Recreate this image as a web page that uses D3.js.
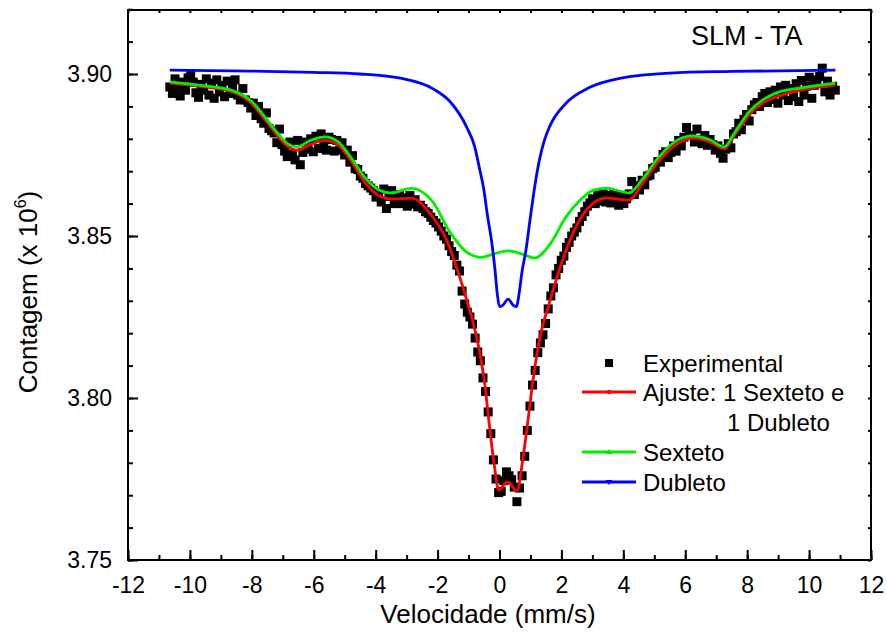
<!DOCTYPE html>
<html>
<head>
<meta charset="utf-8">
<script src="https://cdn.jsdelivr.net/npm/d3@7"></script>
<style>
  body { margin: 0; background: #fff; }
  svg { font-family: "Liberation Sans", Arial, sans-serif; }
</style>
</head>
<body>
<svg width="887" height="635"></svg>
<script>
// experimental spectrum: 256 equally spaced channels
var velStart = -10.65, velStep = 0.0843;
var expCounts = [
  3.8960, 3.8940, 3.8985, 3.8955, 3.8932, 3.8975, 3.8950, 3.8988,
  3.8995, 3.8975, 3.8942, 3.8928, 3.8968, 3.8950, 3.8985, 3.8935,
  3.8972, 3.8925, 3.8982, 3.8945, 3.8965, 3.8930, 3.8978, 3.8940,
  3.8962, 3.8982, 3.8935, 3.8920, 3.8955, 3.8920, 3.8912, 3.8895,
  3.8910, 3.8872, 3.8900, 3.8862, 3.8848, 3.8880, 3.8832, 3.8825,
  3.8818, 3.8788, 3.8830, 3.8782, 3.8762, 3.8745, 3.8790, 3.8752,
  3.8735, 3.8795, 3.8720, 3.8758, 3.8790, 3.8768, 3.8800, 3.8760,
  3.8808, 3.8770, 3.8815, 3.8788, 3.8765, 3.8805, 3.8798, 3.8762,
  3.8795, 3.8765, 3.8788, 3.8750, 3.8765, 3.8728, 3.8748, 3.8708,
  3.8705, 3.8685, 3.8678, 3.8662, 3.8655, 3.8648, 3.8640, 3.8620,
  3.8632, 3.8605, 3.8645, 3.8585, 3.8622, 3.8640, 3.8600, 3.8628,
  3.8628, 3.8600, 3.8618, 3.8592, 3.8625, 3.8598, 3.8612, 3.8590,
  3.8595, 3.8585, 3.8575, 3.8570, 3.8558, 3.8548, 3.8540, 3.8528,
  3.8515, 3.8500, 3.8490, 3.8470, 3.8452, 3.8440, 3.8410, 3.8392,
  3.8330, 3.8290, 3.8265, 3.8250, 3.8228, 3.8185, 3.8142, 3.8115,
  3.8062, 3.8020, 3.7957, 3.7890, 3.7809, 3.7750, 3.7708, 3.7712,
  3.7745, 3.7772, 3.7760, 3.7748, 3.7725, 3.7680, 3.7722, 3.7760,
  3.7820, 3.7900, 3.7975, 3.8040, 3.8085, 3.8140, 3.8170, 3.8195,
  3.8230, 3.8275, 3.8315, 3.8340, 3.8380, 3.8400, 3.8425, 3.8438,
  3.8465, 3.8480, 3.8500, 3.8512, 3.8525, 3.8545, 3.8560, 3.8575,
  3.8592, 3.8602, 3.8615, 3.8600, 3.8625, 3.8608, 3.8630, 3.8605,
  3.8625, 3.8602, 3.8630, 3.8612, 3.8595, 3.8622, 3.8600, 3.8615,
  3.8630, 3.8668, 3.8628, 3.8655, 3.8642, 3.8672, 3.8658, 3.8685,
  3.8688, 3.8708, 3.8712, 3.8730, 3.8728, 3.8752, 3.8760, 3.8742,
  3.8758, 3.8778, 3.8762, 3.8795, 3.8778, 3.8805, 3.8835, 3.8810,
  3.8810, 3.8790, 3.8830, 3.8798, 3.8785, 3.8810, 3.8780, 3.8798,
  3.8782, 3.8765, 3.8778, 3.8755, 3.8740, 3.8768, 3.8785, 3.8772,
  3.8815, 3.8822, 3.8848, 3.8828, 3.8860, 3.8875, 3.8855, 3.8890,
  3.8905, 3.8912, 3.8900, 3.8930, 3.8940, 3.8912, 3.8945, 3.8922,
  3.8950, 3.8910, 3.8960, 3.8935, 3.8965, 3.8918, 3.8955, 3.8930,
  3.8970, 3.8915, 3.8980, 3.8935, 3.8962, 3.8990, 3.8925, 3.8965,
  3.8982, 3.8992, 3.9018, 3.8945, 3.8978, 3.8935, 3.8962, 3.8950
];

// fitted curves [velocity, counts]
var fitTotal = [
  [-10.65, 3.8972], [-9.5, 3.8960], [-8.6, 3.8944], [-8.0, 3.8908], [-7.6, 3.8862],
  [-7.2, 3.8813], [-6.85, 3.8777], [-6.55, 3.8765], [-6.1, 3.8783], [-5.65, 3.8795],
  [-5.2, 3.8780], [-4.84, 3.8738], [-4.3, 3.8660], [-3.9, 3.8625], [-3.45, 3.8614],
  [-2.85, 3.8617], [-2.16, 3.8559], [-1.71, 3.8488], [-1.39, 3.8404], [-1.03, 3.8293],
  [-0.7, 3.8170], [-0.48, 3.8046], [-0.32, 3.7910], [-0.16, 3.7787], [-0.03, 3.7716],
  [0.27, 3.7741], [0.56, 3.7713], [0.75, 3.7809], [0.91, 3.7923], [1.07, 3.8046],
  [1.29, 3.8179], [1.61, 3.8293], [2.04, 3.8426], [2.47, 3.8528], [2.9, 3.8590],
  [3.44, 3.8617], [4.19, 3.8611], [4.6, 3.8660], [5.1, 3.8725], [5.65, 3.8778],
  [6.24, 3.8802], [6.8, 3.8790], [7.26, 3.8769], [7.6, 3.8812], [8.06, 3.8873],
  [8.5, 3.8910], [8.93, 3.8929], [9.8, 3.8952], [10.85, 3.8966]
];
var sextet = [
  [-10.65, 3.8976], [-9.5, 3.8963], [-8.6, 3.8948], [-8.0, 3.8915], [-7.6, 3.8870],
  [-7.2, 3.8821], [-6.85, 3.8785], [-6.55, 3.8775], [-6.1, 3.8795], [-5.65, 3.8806],
  [-5.2, 3.8790], [-4.84, 3.8748], [-4.3, 3.8675], [-3.9, 3.8642], [-3.5, 3.8633],
  [-2.85, 3.8647], [-2.16, 3.8606], [-1.6, 3.8512], [-1.07, 3.8451], [-0.59, 3.8434],
  [-0.2, 3.8444], [0.27, 3.8454], [0.74, 3.8444], [1.13, 3.8432], [1.6, 3.8470],
  [2.15, 3.8559], [2.6, 3.8610], [3.0, 3.8640], [3.44, 3.8648], [4.19, 3.8633],
  [4.6, 3.8673], [5.1, 3.8738], [5.65, 3.8790], [6.24, 3.8809], [6.8, 3.8797],
  [7.26, 3.8775], [7.6, 3.8820], [8.06, 3.8883], [8.5, 3.8920], [8.93, 3.8941],
  [9.8, 3.8958], [10.85, 3.8972]
];
var doublet = [
  [-10.65, 3.9012], [-8, 3.9009], [-6, 3.9005], [-4.5, 3.9000], [-3.2, 3.8987],
  [-2.16, 3.8955], [-1.6, 3.8915], [-1.06, 3.8836], [-0.8, 3.8775], [-0.65, 3.8710],
  [-0.5, 3.8640], [-0.4, 3.8570], [-0.25, 3.8480], [-0.15, 3.8400], [-0.07, 3.8320],
  [0.0, 3.8282], [0.1, 3.8286], [0.28, 3.8305], [0.45, 3.8286], [0.55, 3.8282],
  [0.63, 3.8320], [0.72, 3.8385], [0.86, 3.8460], [1.0, 3.8560], [1.15, 3.8660],
  [1.29, 3.8735], [1.45, 3.8795], [1.61, 3.8836], [2.15, 3.8910], [2.9, 3.8958],
  [3.97, 3.8988], [5.5, 3.9003], [7.5, 3.9008], [10.85, 3.9012]
];

var xTicks = [-12, -10, -8, -6, -4, -2, 0, 2, 4, 6, 8, 10, 12];
var yTicks = [3.75, 3.80, 3.85, 3.90];

var legendItems = [
  { label: "Ajuste: 1 Sexteto e", color: "#ff0000", marker: "circle" },
  { label: "Sexteto", color: "#00ee00", marker: "up" },
  { label: "Dubleto", color: "#0000ff", marker: "down" }
];

function draw() {
    var svg = d3.select("svg");
    var mLeft = 128, mRight = 871, mTop = 10, mBottom = 560;

    var x = d3.scaleLinear().domain([-12, 12]).range([mLeft, mRight]);
    var y = d3.scaleLinear().domain([3.75, 3.92]).range([mBottom, 9.2]);

    var xMinor = d3.range(-12, 12.5, 1);
    var yMinor = d3.range(3.75, 3.921, 0.01);

    // axes (ticks inside the frame)
    svg.append("g")
        .attr("transform", "translate(0," + mBottom + ")")
        .call(d3.axisBottom(x).tickValues(xMinor).tickSize(-5).tickSizeOuter(0).tickFormat(""));
    svg.append("g")
        .attr("class", "xaxis")
        .attr("transform", "translate(0," + mBottom + ")")
        .call(d3.axisBottom(x).tickValues(xTicks).tickSize(-10).tickSizeOuter(0).tickPadding(17)
            .tickFormat(function (d) { return String(d); }));
    svg.append("g")
        .attr("transform", "translate(" + mLeft + ",0)")
        .call(d3.axisLeft(y).tickValues(yMinor).tickSize(-5).tickSizeOuter(0).tickFormat(""));
    svg.append("g")
        .attr("class", "yaxis")
        .attr("transform", "translate(" + mLeft + ",0)")
        .call(d3.axisLeft(y).tickValues(yTicks).tickSize(-10).tickSizeOuter(0).tickPadding(16)
            .tickFormat(d3.format(".2f")));
    svg.append("g")
        .attr("transform", "translate(0," + mTop + ")")
        .call(d3.axisTop(x).tickValues(xMinor).tickSize(-3).tickSizeOuter(0).tickFormat(""));
    svg.append("g")
        .attr("transform", "translate(" + mRight + ",0)")
        .call(d3.axisRight(y).tickValues(yMinor).tickSize(-3).tickSizeOuter(0).tickFormat(""));

    svg.selectAll(".domain").remove();
    svg.selectAll(".tick line").attr("stroke", "#000").attr("stroke-width", 2);
    svg.selectAll(".xaxis text, .yaxis text")
        .attr("font-size", 23)
        .attr("font-family", "Liberation Sans, Arial, sans-serif")
        .attr("fill", "#000");

    svg.append("rect")
        .attr("x", mLeft).attr("y", mTop)
        .attr("width", mRight - mLeft).attr("height", mBottom - mTop)
        .attr("fill", "none").attr("stroke", "#000").attr("stroke-width", 2);

    // experimental points
    var sq = 9;
    svg.append("g")
        .selectAll("rect")
        .data(expCounts)
        .enter().append("rect")
        .attr("x", function (d, i) { return x(velStart + i * velStep) - sq / 2; })
        .attr("y", function (d) { return y(d) - sq / 2; })
        .attr("width", sq).attr("height", sq)
        .attr("fill", "#000");

    var line = d3.line()
        .x(function (d) { return x(d[0]); })
        .y(function (d) { return y(d[1]); })
        .curve(d3.curveMonotoneX);

    svg.append("path").datum(fitTotal)
        .attr("d", line).attr("fill", "none").attr("stroke", "#ff0000").attr("stroke-width", 2.8);
    svg.append("path").datum(sextet)
        .attr("d", line).attr("fill", "none").attr("stroke", "#00ee00").attr("stroke-width", 2.8);
    svg.append("path").datum(doublet)
        .attr("d", line).attr("fill", "none").attr("stroke", "#0000ff").attr("stroke-width", 2.8);

    // axis titles
    svg.append("text")
        .attr("x", 488).attr("y", 623)
        .attr("text-anchor", "middle")
        .attr("font-size", 26)
        .text("Velocidade (mm/s)");

    var yt = svg.append("text")
        .attr("transform", "translate(37,292) rotate(-90)")
        .attr("text-anchor", "middle")
        .attr("font-size", 26);
    yt.append("tspan").text("Contagem (x 10");
    yt.append("tspan").attr("font-size", 16).attr("dy", -11).text("6");
    yt.append("tspan").attr("dy", 11).text(")");

    svg.append("text")
        .attr("x", 691).attr("y", 45)
        .attr("font-size", 27)
        .text("SLM - TA");

    // legend
    var legend = svg.append("g");
    legend.append("rect")
        .attr("x", 605).attr("y", 359).attr("width", 8).attr("height", 8).attr("fill", "#000");
    legend.append("text")
        .attr("x", 643).attr("y", 372).attr("font-size", 24).text("Experimental");

    var rowY = [392, 452, 482];
    legendItems.forEach(function (item, i) {
        var row = legend.append("g").attr("transform", "translate(0," + rowY[i] + ")");
        row.append("line")
            .attr("x1", 582).attr("x2", 636).attr("y1", 0).attr("y2", 0)
            .attr("stroke", item.color).attr("stroke-width", 2.8);
        if (item.marker === "circle") {
            row.append("circle").attr("cx", 609).attr("cy", 0).attr("r", 2.2).attr("fill", item.color);
        } else if (item.marker === "up") {
            row.append("path").attr("d", "M605.5,2L609,-3L612.5,2Z").attr("fill", item.color);
        } else {
            row.append("path").attr("d", "M605.5,-2L609,3L612.5,-2Z").attr("fill", item.color);
        }
        row.append("text")
            .attr("x", 643).attr("y", 9).attr("font-size", 24).text(item.label);
    });
    legend.append("text")
        .attr("x", 727).attr("y", 431).attr("font-size", 24).text("1 Dubleto");
}

draw();
</script>
</body>
</html>
